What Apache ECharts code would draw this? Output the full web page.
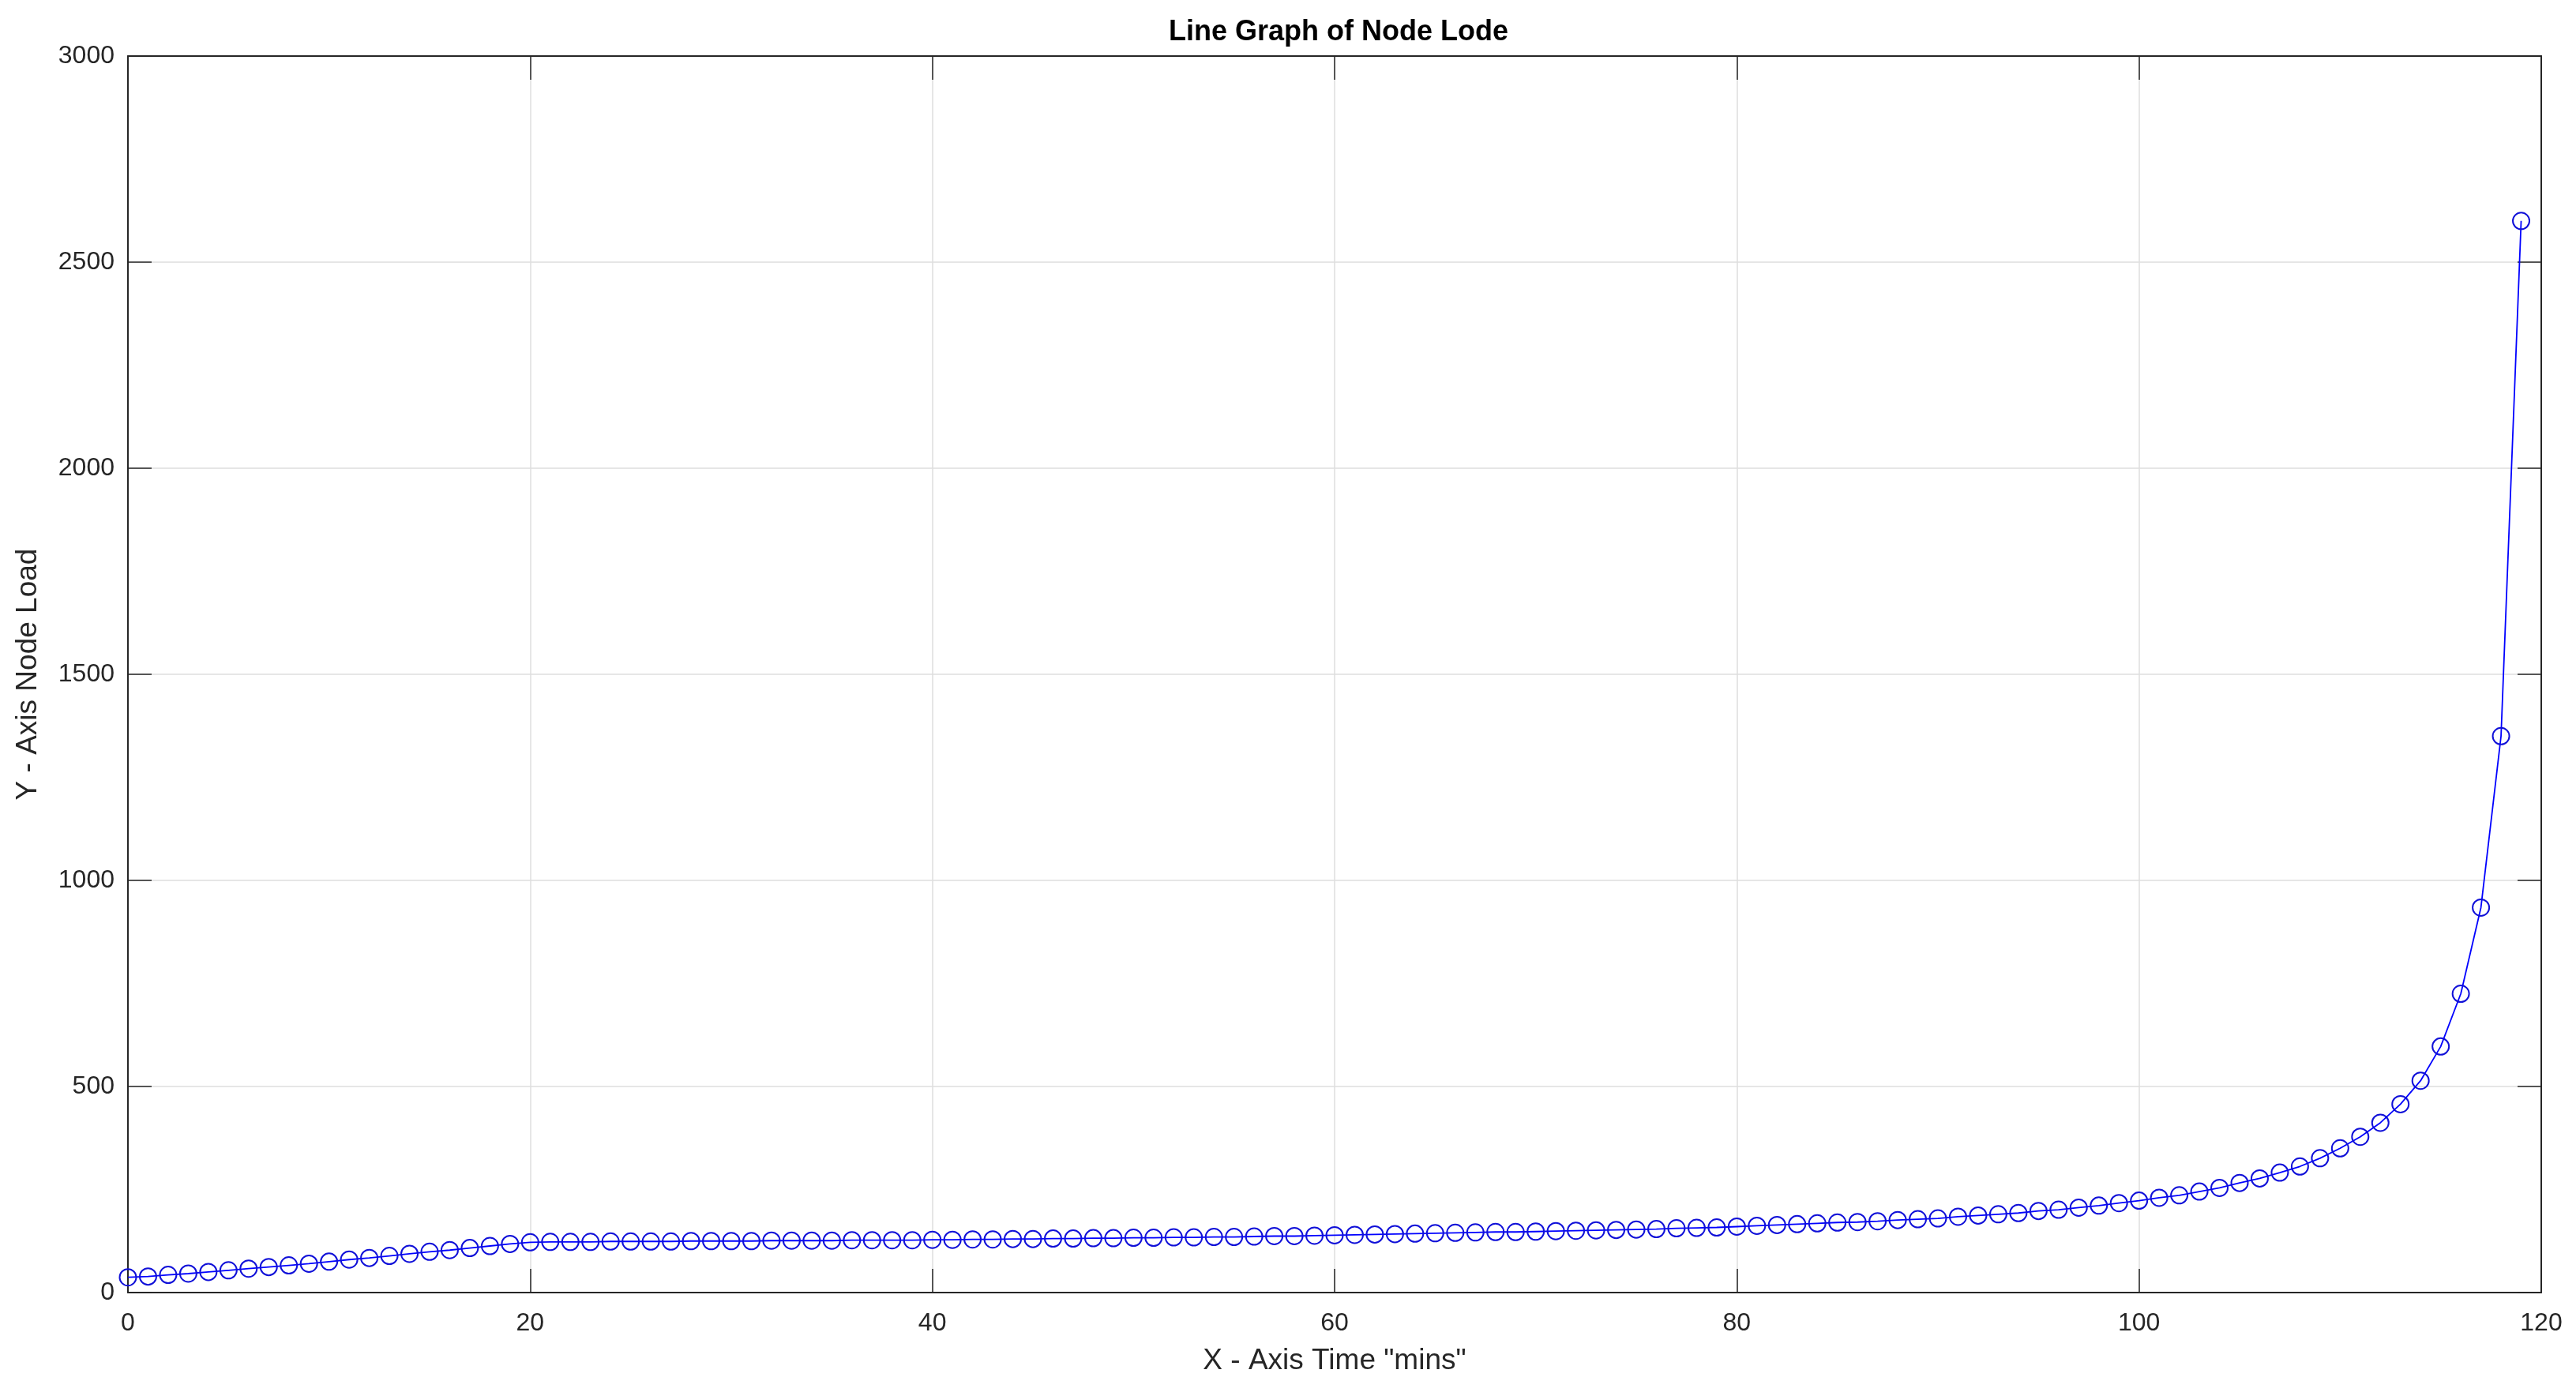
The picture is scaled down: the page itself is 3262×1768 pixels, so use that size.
<!DOCTYPE html>
<html>
<head>
<meta charset="utf-8">
<script src="https://cdn.jsdelivr.net/npm/echarts@6/dist/echarts.min.js"></script>
<style>
html,body{margin:0;padding:0;background:#fff;}
#chart{width:3262px;height:1768px;}
</style>
</head>
<body>
<div id="chart"></div>
<script>
const titleText = 'Line Graph of Node Lode';
const xAxisName = 'X - Axis Time "mins"';
const yAxisName = 'Y - Axis Node Load';
const xTicks = [0, 20, 40, 60, 80, 100, 120];
const yTicks = [0, 500, 1000, 1500, 2000, 2500, 3000];

const timeMins = [
  0,1,2,3,4,5,6,7,8,9,10,11,12,13,14,15,16,17,18,19,
  20,21,22,23,24,25,26,27,28,29,30,31,32,33,34,35,36,37,38,39,
  40,41,42,43,44,45,46,47,48,49,50,51,52,53,54,55,56,57,58,59,
  60,61,62,63,64,65,66,67,68,69,70,71,72,73,74,75,76,77,78,79,
  80,81,82,83,84,85,86,87,88,89,90,91,92,93,94,95,96,97,98,99,
  100,101,102,103,104,105,106,107,108,109,110,111,112,113,114,115,116,117,118,119
];
const nodeLoad = [
  37,39,43,46,50,54,58,62,66,70,75,80,84,89,94,99,103,108,113,118,
  122,123,123,123,124,124,124,124,125,125,125,125,126,126,126,126,127,127,127,127,
  128,128,129,129,130,130,131,131,132,132,133,133,134,134,135,135,136,137,137,138,
  139,140,141,142,143,144,145,146,147,147,148,149,150,151,152,153,154,156,157,158,
  160,162,164,166,168,170,171,173,176,178,180,184,187,190,193,198,201,206,211,217,
  223,230,236,245,254,266,277,291,306,326,350,378,412,457,514,597,725,934,1350,2600
];

const seriesData = timeMins.map((t, i) => [t, nodeLoad[i]]);

const FONT = '"Liberation Sans", Arial, Helvetica, sans-serif';
const axisColor = '#262626';
const gridColor = '#dedede';

const chart = echarts.init(document.getElementById('chart'), null, {renderer: 'canvas'});

const xMin = xTicks[0], xMax = xTicks[xTicks.length - 1], xStep = xTicks[1] - xTicks[0];
const yMin = yTicks[0], yMax = yTicks[yTicks.length - 1], yStep = yTicks[1] - yTicks[0];

const option = {
  backgroundColor: '#ffffff',
  animation: false,
  title: {
    text: titleText,
    left: 1690,
    textAlign: 'center',
    top: 18,
    textStyle: {fontFamily: FONT, fontSize: 36, fontWeight: 'bold', color: '#000'}
  },
  grid: {left: 162, right: 44, top: 71, bottom: 131, containLabel: false},
  xAxis: [
    {
      type: 'value', min: xMin, max: xMax, interval: xStep,
      name: xAxisName, nameLocation: 'middle', nameGap: 68,
      nameTextStyle: {fontFamily: FONT, fontSize: 37, color: '#262626'},
      axisLine: {show: true, onZero: false, lineStyle: {color: axisColor, width: 2}},
      axisTick: {show: true, inside: true, length: 30, lineStyle: {color: axisColor, width: 1.5}},
      axisLabel: {fontFamily: FONT, fontSize: 32, color: '#262626', margin: 23,
                  formatter: v => String(v)},
      splitLine: {show: true, lineStyle: {color: gridColor, width: 1.5}}
    },
    {
      type: 'value', position: 'top', min: xMin, max: xMax, interval: xStep,
      axisLine: {show: true, onZero: false, lineStyle: {color: axisColor, width: 2}},
      axisTick: {show: true, inside: true, length: 30, lineStyle: {color: axisColor, width: 1.5}},
      axisLabel: {show: false},
      splitLine: {show: false}
    }
  ],
  yAxis: [
    {
      type: 'value', min: yMin, max: yMax, interval: yStep,
      name: yAxisName, nameLocation: 'middle', nameGap: 108,
      nameTextStyle: {fontFamily: FONT, fontSize: 37, color: '#262626'},
      axisLine: {show: true, onZero: false, lineStyle: {color: axisColor, width: 2}},
      axisTick: {show: true, inside: true, length: 30, lineStyle: {color: axisColor, width: 1.5}},
      axisLabel: {fontFamily: FONT, fontSize: 32, color: '#262626', margin: 17,
                  formatter: v => String(v)},
      splitLine: {show: true, lineStyle: {color: gridColor, width: 1.5}}
    },
    {
      type: 'value', position: 'right', min: yMin, max: yMax, interval: yStep,
      axisLine: {show: true, onZero: false, lineStyle: {color: axisColor, width: 2}},
      axisTick: {show: true, inside: true, length: 30, lineStyle: {color: axisColor, width: 1.5}},
      axisLabel: {show: false},
      splitLine: {show: false}
    }
  ],
  series: [
    {
      type: 'line',
      xAxisIndex: 0, yAxisIndex: 0,
      data: seriesData,
      showAllSymbol: true,
      symbol: 'circle',
      symbolSize: 21,
      lineStyle: {color: '#0000ff', width: 1.8},
      itemStyle: {color: 'rgba(0,0,0,0)', borderColor: '#1010d8', borderWidth: 2},
      z: 5
    }
  ]
};
chart.setOption(option);
</script>
</body>
</html>
